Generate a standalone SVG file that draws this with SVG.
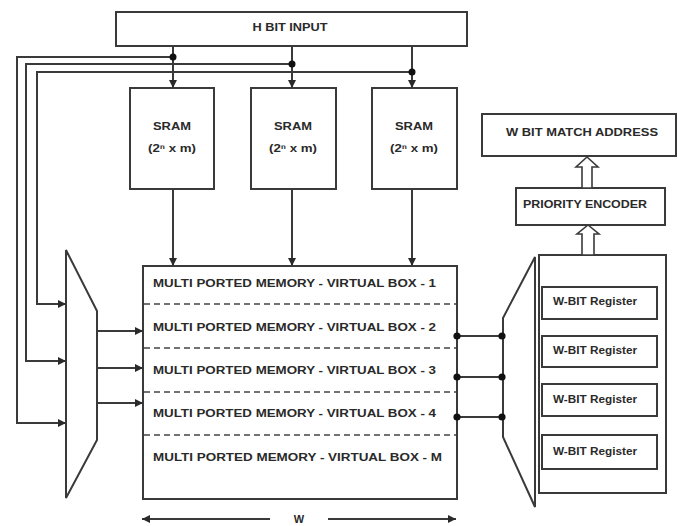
<svg xmlns="http://www.w3.org/2000/svg" width="678" height="526" viewBox="0 0 678 526">
<defs>
<marker id="ah" markerUnits="userSpaceOnUse" markerWidth="9" markerHeight="8" refX="8" refY="4" orient="auto">
<path d="M0,0 L8,4 L0,8 z" fill="#2a2a2a"/>
</marker>
</defs>
<style>
.box{fill:#fff;stroke:#3a3a3a;stroke-width:2}
.ln{fill:none;stroke:#3a3a3a;stroke-width:2}
.ar{fill:none;stroke:#3a3a3a;stroke-width:2;marker-end:url(#ah)}
.dash{fill:none;stroke:#444;stroke-width:1.5;stroke-dasharray:6 4}
.t{font-family:"Liberation Sans",Arial,sans-serif;font-weight:bold;font-size:11px;fill:#2a2a2a;text-anchor:middle}
.m{font-family:"Liberation Sans",Arial,sans-serif;font-weight:bold;font-size:11.5px;fill:#2a2a2a}
.hol{fill:#fff;stroke:#3a3a3a;stroke-width:1.6}
.d{fill:#111}
</style>
<rect width="678" height="526" fill="#fff"/>

<g id="hbit">
<rect class="box" x="116" y="12" width="351" height="34"/>
<text class="t" x="290" y="31" textLength="75" lengthAdjust="spacingAndGlyphs">H BIT INPUT</text>
</g>

<g id="sram1">
<rect class="box" x="130" y="88" width="84" height="101"/>
<text class="t" x="172" y="130" textLength="38" lengthAdjust="spacingAndGlyphs">SRAM</text>
<text class="t" x="172" y="152" textLength="48" lengthAdjust="spacingAndGlyphs">(2ⁿ x m)</text>
</g>
<g id="sram2">
<rect class="box" x="251" y="88" width="85" height="101"/>
<text class="t" x="293" y="130" textLength="38" lengthAdjust="spacingAndGlyphs">SRAM</text>
<text class="t" x="293" y="152" textLength="48" lengthAdjust="spacingAndGlyphs">(2ⁿ x m)</text>
</g>
<g id="sram3">
<rect class="box" x="372" y="88" width="85" height="101"/>
<text class="t" x="414" y="130" textLength="38" lengthAdjust="spacingAndGlyphs">SRAM</text>
<text class="t" x="414" y="152" textLength="48" lengthAdjust="spacingAndGlyphs">(2ⁿ x m)</text>
</g>

<g id="memory">
<rect class="box" x="143" y="266" width="314" height="233"/>
<line class="dash" x1="144" y1="304" x2="456" y2="304"/>
<line class="dash" x1="144" y1="348" x2="456" y2="348"/>
<line class="dash" x1="144" y1="392" x2="456" y2="392"/>
<line class="dash" x1="144" y1="435" x2="456" y2="435"/>
<text class="m" x="153" y="287" textLength="283" lengthAdjust="spacingAndGlyphs">MULTI PORTED MEMORY - VIRTUAL BOX - 1</text>
<text class="m" x="153" y="331" textLength="283" lengthAdjust="spacingAndGlyphs">MULTI PORTED MEMORY - VIRTUAL BOX - 2</text>
<text class="m" x="153" y="374" textLength="283" lengthAdjust="spacingAndGlyphs">MULTI PORTED MEMORY - VIRTUAL BOX - 3</text>
<text class="m" x="153" y="417" textLength="283" lengthAdjust="spacingAndGlyphs">MULTI PORTED MEMORY - VIRTUAL BOX - 4</text>
<text class="m" x="153" y="461" textLength="289" lengthAdjust="spacingAndGlyphs">MULTI PORTED MEMORY - VIRTUAL BOX - M</text>
</g>

<g id="mux-left">
<polygon class="box" points="66,250 97,311 97,440 66,498"/>
</g>

<g id="mux-right">
<polygon class="box" points="535,257 503,318 503,437 535,507"/>
</g>

<g id="registers">
<rect class="box" x="539" y="255" width="127" height="238"/>
<rect class="box" x="542" y="287" width="115" height="32"/>
<text class="t" x="595" y="305" font-size="9.5" textLength="84" lengthAdjust="spacingAndGlyphs">W-BIT Register</text>
<rect class="box" x="542" y="336" width="115" height="31"/>
<text class="t" x="595" y="354" font-size="9.5" textLength="84" lengthAdjust="spacingAndGlyphs">W-BIT Register</text>
<rect class="box" x="542" y="384" width="115" height="32"/>
<text class="t" x="595" y="403" font-size="9.5" textLength="84" lengthAdjust="spacingAndGlyphs">W-BIT Register</text>
<rect class="box" x="542" y="435" width="115" height="34"/>
<text class="t" x="595" y="455" font-size="9.5" textLength="84" lengthAdjust="spacingAndGlyphs">W-BIT Register</text>
</g>

<g id="encoder">
<rect class="box" x="516" y="188" width="149" height="37"/>
<text class="t" x="585" y="208" textLength="124" lengthAdjust="spacingAndGlyphs">PRIORITY ENCODER</text>
</g>

<g id="match">
<rect class="box" x="482" y="114" width="194" height="42"/>
<text class="t" x="582" y="136" textLength="152" lengthAdjust="spacingAndGlyphs">W BIT MATCH ADDRESS</text>
</g>

<g id="connectors">
<line class="ar" x1="173" y1="46" x2="173" y2="88"/>
<line class="ar" x1="292" y1="46" x2="292" y2="88"/>
<line class="ar" x1="412" y1="46" x2="412" y2="88"/>
<polyline class="ar" points="173,57 17,57 17,423 66,423"/>
<polyline class="ar" points="292,64 26,64 26,361 66,361"/>
<polyline class="ar" points="412,72 37,72 37,304 66,304"/>
<circle class="d" cx="173" cy="57" r="3.5"/>
<circle class="d" cx="292" cy="64" r="3.5"/>
<circle class="d" cx="412" cy="72" r="3.5"/>
<line class="ar" x1="173" y1="189" x2="173" y2="266"/>
<line class="ar" x1="292" y1="189" x2="292" y2="266"/>
<line class="ar" x1="412" y1="189" x2="412" y2="266"/>
<line class="ar" x1="97" y1="331" x2="143" y2="331"/>
<line class="ar" x1="97" y1="368" x2="143" y2="368"/>
<line class="ar" x1="97" y1="403" x2="143" y2="403"/>
<line class="ln" x1="457" y1="336" x2="503" y2="336"/>
<line class="ln" x1="457" y1="377" x2="503" y2="377"/>
<line class="ln" x1="457" y1="417" x2="503" y2="417"/>
<circle class="d" cx="457" cy="336" r="3.6"/>
<circle class="d" cx="502" cy="336" r="3.6"/>
<circle class="d" cx="457" cy="377" r="3.6"/>
<circle class="d" cx="502" cy="377" r="3.6"/>
<circle class="d" cx="457" cy="417" r="3.6"/>
<circle class="d" cx="502" cy="417" r="3.6"/>
<path class="hol" d="M582,255 L582,234 L577,234 L588,225 L599,234 L594,234 L594,255 Z"/>
<path class="hol" d="M582,188 L582,167 L576,167 L587,157 L598,167 L592,167 L592,188 Z"/>
<line class="ar" x1="270" y1="519" x2="142" y2="519"/>
<line class="ar" x1="328" y1="519" x2="456" y2="519"/>
<text class="t" x="299" y="523" font-size="10" font-weight="normal">W</text>
</g>
</svg>
